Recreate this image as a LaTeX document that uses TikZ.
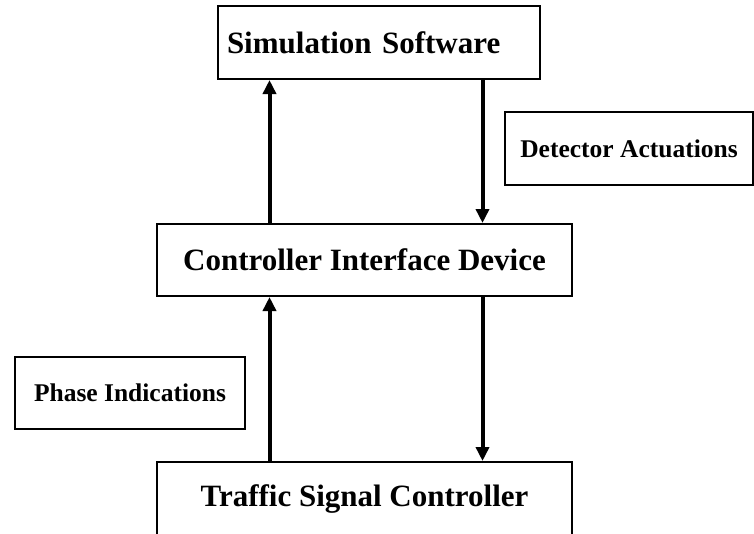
\documentclass[tikz,border=0pt]{standalone}
\usepackage{fontspec}
\setmainfont{Liberation Serif}
\usetikzlibrary{arrows.meta,positioning}

\begin{document}
\begin{tikzpicture}[x=1pt,y=-1pt,
  box/.style={draw, line width=2pt, inner sep=0pt, font=\fontsize{31}{36}\selectfont\bfseries},
  tag/.style={draw, line width=2pt, inner sep=0pt, font=\fontsize{25.5}{30}\selectfont\bfseries},
  flow/.style={line width=4pt, -{Triangle[length=14pt,width=13pt]}}]
\useasboundingbox (0,0) rectangle (754,533);

% Main blocks
\node[box, text width=304pt, inner xsep=9pt, minimum height=73pt, align=left] (sim) at (379,42.5) {Simulation Software};
\node[box, minimum width=415pt, minimum height=72pt] (cid) at (364.5,260) {Controller Interface Device};
\node[box, minimum width=415pt, minimum height=73pt] (tsc) at (364.5,498.5) {Traffic Signal Controller};

% Side labels
\node[tag, minimum width=248pt, minimum height=73pt] (det) at (629,148.5) {Detector Actuations};
\node[tag, minimum width=230pt, minimum height=72pt] (pha) at (130,393) {Phase Indications};

% Arrow columns
\coordinate (lft) at (269.5,0);
\coordinate (rgt) at (482.5,0);

\draw[flow] (cid.north -| lft) -- (sim.south -| lft);
\draw[flow] (sim.south -| rgt) -- (cid.north -| rgt);
\draw[flow] (tsc.north -| lft) -- (cid.south -| lft);
\draw[flow] (cid.south -| rgt) -- (tsc.north -| rgt);
\end{tikzpicture}
\end{document}
